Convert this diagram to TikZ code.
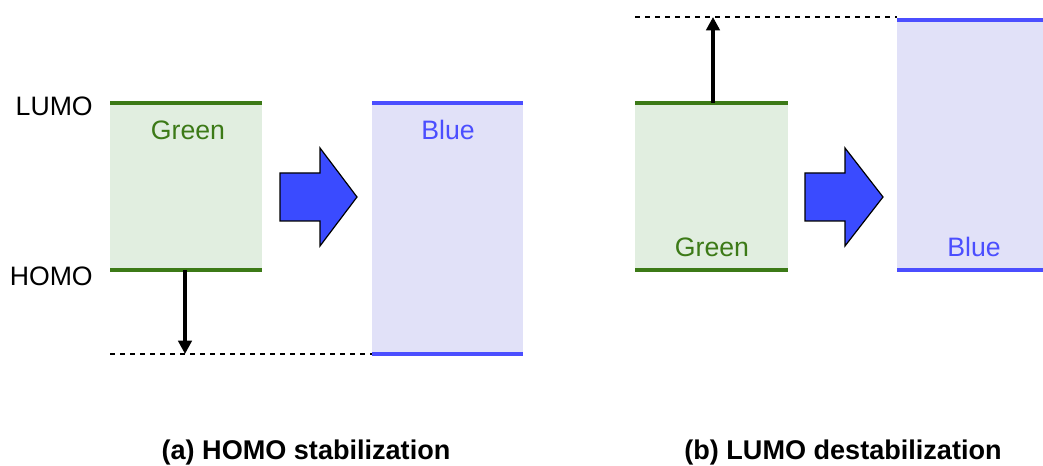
\documentclass[tikz,border=0pt]{standalone}
\usepackage{fontspec}
\setmainfont{Liberation Sans}
\usetikzlibrary{arrows.meta}

\definecolor{grline}{HTML}{3C7A17}
\definecolor{grfill}{HTML}{E1EEE0}
\definecolor{blline}{HTML}{4B4EFF}
\definecolor{blfill}{HTML}{E1E1F8}
\definecolor{blarrow}{HTML}{3A4BFF}

\begin{document}
\begin{tikzpicture}
[x=0.75pt, y=-0.75pt,
 nodes={font=\fontsize{20}{24}\selectfont, inner sep=0pt},
 >={Triangle[width=10pt,length=10pt]},
 level/.style={line width=2.6pt},
 guide/.style={line width=0.8pt, dash pattern=on 3.75pt off 3.75pt},
 shiftarrow/.style={line width=3pt},
 bigarrow/.style={draw=black, line width=0.9pt, fill=blarrow, line join=miter},
 caption/.style={font=\fontsize{20.3}{24}\selectfont\bfseries}]
\useasboundingbox (0,0) rectangle (1043,466);

% (a) HOMO stabilization
\fill[grfill] (110,103) rectangle (262,270);
\fill[blfill] (372,103) rectangle (523,354);
\draw[level, grline] (110,103) -- (262,103);
\draw[level, grline] (110,270) -- (262,270);
\draw[level, blline] (372,103) -- (523,103);
\draw[level, blline] (372,354) -- (523,354);
\node[anchor=east] (LUMO) at (93,106) {LUMO};
\node[anchor=east] (HOMO) at (93,276) {HOMO};
\node[text=grline] (Ga) at (188,130) {Green};
\node[text=blline] (Ba) at (448,130) {Blue};
\coordinate (Ha) at (185,270);
\coordinate (Da) at (185,354);
\draw[guide] (110,354) -- (372,354);
\draw[->, shiftarrow] (Ha) -- (Da);
\coordinate (Aa) at (280,197);
\draw[bigarrow] (Aa) ++(0,-24) -- ++(40,0) -- ++(0,-25) -- ++(37,49)
  -- ++(-37,49) -- ++(0,-25) -- ++(-40,0) -- cycle;
\node[caption] (capa) at (306,453) {(a) HOMO stabilization};

% (b) LUMO destabilization
\fill[grfill] (635,103) rectangle (788,270);
\fill[blfill] (897,20) rectangle (1043,270);
\draw[level, grline] (635,103) -- (788,103);
\draw[level, grline] (635,270) -- (788,270);
\draw[level, blline] (897,20) -- (1043,20);
\draw[level, blline] (897,270) -- (1043,270);
\node[text=grline] (Gb) at (712,247) {Green};
\node[text=blline] (Bb) at (974,247) {Blue};
\coordinate (Lb) at (713,103);
\coordinate (Ub) at (713,17);
\draw[guide] (635,17) -- (897,17);
\draw[->, shiftarrow] (Lb) -- (Ub);
\coordinate (Ab) at (805,197);
\draw[bigarrow] (Ab) ++(0,-24) -- ++(40,0) -- ++(0,-25) -- ++(38,49)
  -- ++(-38,49) -- ++(0,-25) -- ++(-40,0) -- cycle;
\node[caption] (capb) at (843,453) {(b) LUMO destabilization};
\end{tikzpicture}
\end{document}
